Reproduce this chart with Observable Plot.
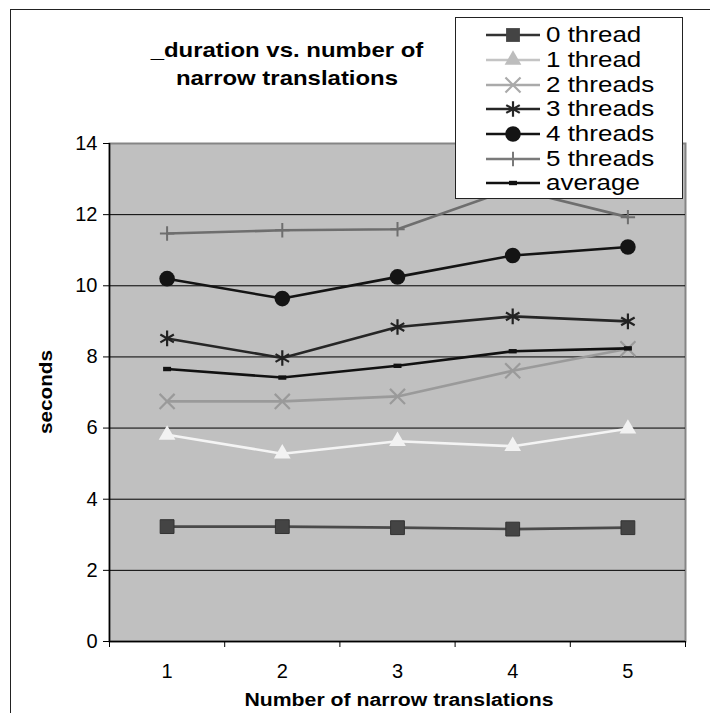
<!DOCTYPE html>
<html>
<head>
<meta charset="utf-8">
<script src="https://cdn.jsdelivr.net/npm/d3@7"></script>
<script src="https://cdn.jsdelivr.net/npm/@observablehq/plot@0.6"></script>
<style>
  html, body { margin: 0; padding: 0; background: #fff; }
  #wrap { position: relative; width: 710px; height: 713px; overflow: hidden; font-family: "Liberation Sans", Arial, sans-serif; }
  #outer { position: absolute; left: 10px; top: 9px; width: 760px; height: 760px; border-left: 1.5px solid #222; border-top: 1.5px solid #222; }
  #title { position: absolute; left: 87px; width: 400px; top: 36px; text-align: center; font-weight: bold; font-size: 21px; line-height: 28px; color: #000; transform: scaleX(1.14); transform-origin: 200px 0; }
  #ylabel { position: absolute; left: 46px; top: 392px; transform: translate(-50%, -50%) rotate(-90deg) scaleX(1.15); font-weight: bold; font-size: 18px; white-space: nowrap; }
  #xlabel { position: absolute; left: 399px; top: 689px; transform: translateX(-50%) scaleX(1.18); font-weight: bold; font-size: 18px; line-height: 22px; white-space: nowrap; }
  #legend { position: absolute; left: 455px; top: 17px; width: 228px; height: 182px; background: #fff; border: 1px solid #222; box-sizing: border-box; padding-top: 5px; }
  .row { display: flex; align-items: center; height: 24.7px; }
  .row svg { margin-left: 29px; flex: none; }
  .row span { font-size: 22px; margin-left: 5px; line-height: 24px; display: inline-block; transform: scaleX(1.18); transform-origin: 0 50%; white-space: nowrap; }
  #plot svg { position: absolute; left: 0; top: 0; }
</style>
</head>
<body>
<div id="wrap">
  <div id="outer"></div>
  <div id="plot"></div>
  <div id="title">_duration vs. number of<br>narrow translations</div>
  <div id="ylabel">seconds</div>
  <div id="xlabel">Number of narrow translations</div>
  <div id="legend"></div>
</div>
<script>
// ---- data ----
const categories = [1, 2, 3, 4, 5];
const seriesNames = ["0 thread", "1 thread", "2 threads", "3 threads", "4 threads", "5 threads", "average"];
const thread0 = [3.23, 3.23, 3.20, 3.16, 3.20];
const thread1 = [5.81, 5.28, 5.63, 5.49, 5.98];
const thread2 = [6.75, 6.75, 6.89, 7.61, 8.23];
const thread3 = [8.52, 7.97, 8.84, 9.14, 9.00];
const thread4 = [10.20, 9.64, 10.25, 10.85, 11.09];
const thread5 = [11.47, 11.56, 11.59, 12.73, 11.93];
const average = [7.66, 7.42, 7.75, 8.16, 8.24];
const yTicks = [0, 2, 4, 6, 8, 10, 12, 14];

const seriesValues = [thread0, thread1, thread2, thread3, thread4, thread5, average];

// ---- styles ----
const avgSymbol = { draw(ctx, size) { ctx.rect(-4, -2.2, 8, 4.4); } };
const styles = [
  { line: "#4a4a4a", symbol: "square", r: 7.8, fill: "#444", stroke: "#333", sw: 1, legendLine: "#333" },
  { line: "#f4f4f4", symbol: "triangle", r: 6.2, fill: "#f2f2f2", stroke: "none", sw: 0, legendLine: "#c4c4c4", legendFill: "#bdbdbd" },
  { line: "#9a9a9a", symbol: "times", r: 6.9, fill: "none", stroke: "#9a9a9a", sw: 2.2, legendLine: "#aaa" },
  { line: "#262626", symbol: "asterisk", r: 7.4, fill: "none", stroke: "#222", sw: 2.2, legendLine: "#262626" },
  { line: "#141414", symbol: "circle", r: 7.8, fill: "#141414", stroke: "none", sw: 0, legendLine: "#141414" },
  { line: "#6e6e6e", symbol: "plus", r: 4.7, fill: "none", stroke: "#6e6e6e", sw: 2, legendLine: "#7a7a7a" },
  { line: "#111", symbol: avgSymbol, r: 4, fill: "#111", stroke: "none", sw: 0, legendLine: "#111" }
];

const rows = seriesNames.map((name, i) =>
  categories.map((c, j) => ({ series: name, idx: i, x: c, y: seriesValues[i][j] }))
);

const boundaries = categories.map(c => c - 0.5).concat([categories[categories.length - 1] + 0.5]);

const marks = [
  Plot.frame({ fill: "#c0c0c0", stroke: "#858585", strokeWidth: 2 }),
  Plot.ruleY(yTicks.filter(t => t > 0 && t < 14), { stroke: "#000", strokeWidth: 1 }),
  Plot.axisY({ ticks: yTicks, tickSize: 6, tickPadding: 6, fontSize: 20, label: null, stroke: "#000", color: "#000" }),
  Plot.axisX({ ticks: categories, tickSize: 0, tickPadding: 22, fontSize: 20, label: null, tickFormat: d => String(d) }),
  Plot.axisX({ ticks: boundaries, tickSize: 6, tickFormat: () => "", label: null, stroke: "#000" }),
  Plot.ruleX([0.5], { stroke: "#000", strokeWidth: 1.5 }),
  Plot.ruleY([0], { stroke: "#000", strokeWidth: 1.5 })
];

rows.forEach((data, i) => {
  const s = styles[i];
  marks.push(Plot.line(data, { x: "x", y: "y", stroke: s.line, strokeWidth: 2.6 }));
  marks.push(Plot.dot(data, { x: "x", y: "y", symbol: s.symbol, r: s.r, fill: s.fill, stroke: s.stroke, strokeWidth: s.sw }));
});

const chart = Plot.plot({
  width: 710,
  height: 713,
  marginLeft: 109,
  marginRight: 25,
  marginTop: 143,
  marginBottom: 72,
  style: { fontFamily: "Liberation Sans, Arial, sans-serif", background: "transparent", color: "#000" },
  x: { type: "linear", domain: [0.5, 5.5] },
  y: { type: "linear", domain: [0, 14] },
  marks
});
document.getElementById("plot").appendChild(chart);

// ---- legend ----
const symMap = { square: d3.symbolSquare, triangle: d3.symbolTriangle, times: d3.symbolTimes, asterisk: d3.symbolAsterisk, circle: d3.symbolCircle, plus: d3.symbolPlus };
const legend = d3.select("#legend");
seriesNames.forEach((name, i) => {
  const s = styles[i];
  const row = legend.append("div").attr("class", "row");
  const svg = row.append("svg").attr("width", 56).attr("height", 24);
  svg.append("line").attr("x1", 1).attr("x2", 55).attr("y1", 12).attr("y2", 12).attr("stroke", s.legendLine).attr("stroke-width", 2.4);
  const type = typeof s.symbol === "string" ? symMap[s.symbol] : s.symbol;
  const path = d3.symbol(type, Math.PI * s.r * s.r)();
  const isStroke = s.fill === "none";
  svg.append("path").attr("d", path).attr("transform", "translate(28,12)")
    .attr("fill", isStroke ? "none" : (s.legendFill || s.fill))
    .attr("stroke", isStroke ? s.legendLine : "none")
    .attr("stroke-width", s.sw);
  row.append("span").text(name);
});
</script>
</body>
</html>
